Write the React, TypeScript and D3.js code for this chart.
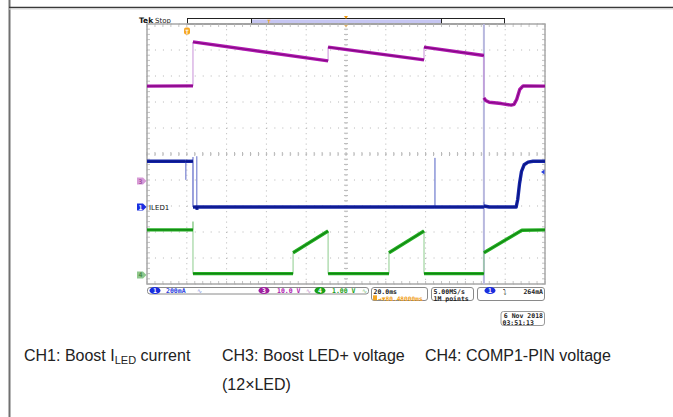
import React from "react";
import * as d3 from "d3";

// ---- data (time in ms, values in channel units) ----
const ch3Points: [number, number][] = [
  [0, 36.5], [23.1, 36.6], [23.1, 53.5], [91.0, 46.2], [91.0, 51.5], [139.2, 46.6],
  [139.2, 51.5], [169.3, 48.3], [169.3, 32.0], [170.2, 31.0], [172, 30.3], [178, 29.8],
  [183, 29.2], [184.5, 29.5], [185.8, 31.5], [187.3, 35.2], [189, 36.6], [200, 36.5],
];
const ch1Points: [number, number][] = [
  [0, 352], [19.5, 352], [19.5, 210], [19.5, 352], [23.1, 352], [23.1, 0], [23.1, 385],
  [23.1, 0], [25.0, 0], [25.0, 390], [25.0, -20], [25.2, 0], [144.7, 0], [144.7, 378],
  [144.7, 0], [169.3, 0], [169.3, 40], [169.3, 8], [172, 0], [185.5, 0], [186.3, 60],
  [187.2, 180], [188.2, 275], [189.5, 325], [191.5, 345], [194, 352], [200, 352],
];
const ch4Points: [number, number][] = [
  [0, 1.73], [23.1, 1.73], [23.1, 2.05], [23.1, 0.05], [73.4, 0.05], [73.4, 0.85],
  [91.0, 1.69], [91.0, 0.05], [121.6, 0.05], [121.6, 0.85], [139.2, 1.69], [139.2, 0.05],
  [169.3, 0.05], [169.3, 0.85], [188.4, 1.72], [200, 1.73],
];
const cursorTimes = [169.3];
const timeDivs = d3.range(0, 11);
const vertDivs = d3.range(-5, 6);
const captions = ["CH3: Boost LED+ voltage", "CH4: COMP1-PIN voltage"];

// ---- layout ----
const W = 673, H = 417;
const GX0 = 147, GX1 = 545, GY0 = 24, GY1 = 284;
const x = d3.scaleLinear().domain([0, 200]).range([GX0, GX1]);
const yDiv = d3.scaleLinear().domain([-5, 5]).range([GY1, GY0]);

const channels = [
  { pts: ch3Points, perDiv: 10, offset: -1.04, band: "#b018b0", core: "#800a80", edge: "#c890d8" },
  { pts: ch1Points, perDiv: 200, offset: -2.04, band: "#1424a8", core: "#0a1480", edge: "#8c94d8" },
  { pts: ch4Points, perDiv: 1, offset: -4.65, band: "#22b022", core: "#128212", edge: "#8ccc8c" },
];

function runs(pts: [number, number][]) {
  const out: [number, number][][] = [];
  let cur: [number, number][] = [pts[0]];
  for (let i = 1; i < pts.length; i++) {
    if (pts[i][0] === pts[i - 1][0]) {
      if (cur.length > 1) out.push(cur);
      cur = [pts[i]];
    } else cur.push(pts[i]);
  }
  if (cur.length > 1) out.push(cur);
  return out;
}

const mono = "'DejaVu Sans Mono', monospace";
const cap = "'Liberation Sans', Arial, sans-serif";

function Marker({ y, fill, label, textFill }: { y: number; fill: string; label: string; textFill: string }) {
  return (
    <g>
      <path d={`M137,${y - 3.5} L143,${y - 3.5} L146.5,${y} L143,${y + 3.5} L137,${y + 3.5} Z`} fill={fill} />
      <text x={140.5} y={y + 2.5} fontSize={6.5} fontFamily={mono} fontWeight="bold" fill={textFill} textAnchor="middle">{label}</text>
    </g>
  );
}

function ChanBadge({ cx, fill, label }: { cx: number; fill: string; label: string }) {
  return (
    <g>
      <ellipse cx={cx} cy={290.5} rx={5.5} ry={3.6} fill={fill} />
      <text x={cx} y={293} fontSize={6.5} fontFamily={mono} fontWeight="bold" fill="#fff" textAnchor="middle">{label}</text>
    </g>
  );
}

export default function App() {
  const minorX = (GX1 - GX0) / 50;
  const minorY = (GY1 - GY0) / 50;
  const cx = x(100), cy = yDiv(0);
  return (
    <div style={{ position: "fixed", left: 0, top: 0 }}>
      <svg width={W} height={H} style={{ display: "block", background: "#fff" }}>
        {/* page frame lines */}
        <line x1={9.5} y1={0} x2={9.5} y2={H} stroke="#707070" strokeWidth={2} />
        <line x1={9} y1={7.5} x2={W} y2={7.5} stroke="#3a3a3a" strokeWidth={1.6} />
        <line x1={9} y1={9} x2={W} y2={9} stroke="#d8d8d8" strokeWidth={1} />

        {/* header */}
        <text x={139} y={23} fontSize={7.5} fontWeight="bold" fontFamily="'DejaVu Sans', sans-serif" fill="#111">Tek</text>
        <text x={155} y={23} fontSize={7} fontFamily="'DejaVu Sans', sans-serif" fill="#222">Stop</text>
        <rect x={187.5} y={18.5} width={317} height={5.5} fill="#fff" stroke="#222" strokeWidth={1} />
        <rect x={251.5} y={19.5} width={190} height={3.5} fill="#c6c6f2" />
        <line x1={251.5} y1={18.5} x2={251.5} y2={24} stroke="#222" />
        <line x1={441.5} y1={18.5} x2={441.5} y2={24} stroke="#222" />
        <text x={269} y={24} fontSize={6} fontFamily={mono} fontWeight="bold" fill="#f0a020" textAnchor="middle">T</text>
        <path d={`M${cx - 2},16 L${cx + 2},16 L${cx},19 Z`} fill="#f09a10" />
        <path d={`M${cx - 2},24.5 L${cx + 2},24.5 L${cx},27.5 Z`} fill="#f09a10" />

        {/* graticule grid */}
        {timeDivs.map((d) => (
          <line key={"gx" + d} x1={GX0 + d * 5 * minorX} x2={GX0 + d * 5 * minorX} y1={GY0} y2={GY1}
            stroke="#b5b5b5" strokeWidth={1} strokeDasharray={`1,${minorY - 1}`} />
        ))}
        {vertDivs.map((d) => (
          <line key={"gy" + d} x1={GX0} x2={GX1} y1={yDiv(d)} y2={yDiv(d)}
            stroke="#b5b5b5" strokeWidth={1} strokeDasharray={`1,${minorX - 1}`} />
        ))}
        {/* center ticks */}
        {d3.range(0, 51).map((i) => (
          <g key={"tk" + i}>
            <line x1={GX0 + i * minorX} x2={GX0 + i * minorX} y1={cy - 2} y2={cy + 2} stroke="#b8b8b8" />
            <line x1={GX0 + i * minorX} x2={GX0 + i * minorX} y1={GY0} y2={GY0 + 3} stroke="#c4c4c4" />
            <line x1={GX0 + i * minorX} x2={GX0 + i * minorX} y1={GY1 - 3} y2={GY1} stroke="#c4c4c4" />
            <line y1={GY0 + i * minorY} y2={GY0 + i * minorY} x1={cx - 2} x2={cx + 2} stroke="#b8b8b8" />
            <line y1={GY0 + i * minorY} y2={GY0 + i * minorY} x1={GX0} x2={GX0 + 3} stroke="#c4c4c4" />
            <line y1={GY0 + i * minorY} y2={GY0 + i * minorY} x1={GX1 - 3} x2={GX1} stroke="#c4c4c4" />
          </g>
        ))}
        <rect x={GX0} y={GY0} width={GX1 - GX0} height={GY1 - GY0} fill="none" stroke="#a8a8a8" strokeWidth={1.5} />

        {/* cursor line */}
        {cursorTimes.map((t) => (
          <line key={"c" + t} x1={x(t)} x2={x(t)} y1={GY0} y2={GY1} stroke="#b8b8de" strokeWidth={2} />
        ))}

        {/* traces */}
        {channels.map((ch, ci) => {
          const yv = (v: number) => yDiv(ch.offset + v / ch.perDiv);
          const line = d3.line<[number, number]>().x((d) => x(d[0])).y((d) => yv(d[1]));
          const rs = runs(ch.pts);
          return (
            <g key={"ch" + ci}>
              <path d={line(ch.pts) || ""} fill="none" stroke={ch.edge} strokeWidth={1} />
              {rs.map((r, i) => (
                <path key={"b" + i} d={line(r) || ""} fill="none" stroke={ch.band} strokeWidth={3.4} strokeLinejoin="round" />
              ))}
              {rs.map((r, i) => (
                <path key={"c" + i} d={line(r) || ""} fill="none" stroke={ch.core} strokeWidth={1.1} strokeLinejoin="round" />
              ))}
            </g>
          );
        })}

        {/* trigger markers */}
        <rect x={184} y={27.5} width={6} height={7} rx={2} fill="#f5a623" />
        <text x={187} y={33.5} fontSize={6} fontFamily={mono} fontWeight="bold" fill="#fff" textAnchor="middle">T</text>
        <path d={`M${GX1 - 0.5},169.5 L${GX1 - 0.5},174.5 L${GX1 - 4},172 Z`} fill="#2a40e0" />

        {/* channel markers */}
        <Marker y={yDiv(channels[0].offset)} fill="#d79ad7" label="3" textFill="#a050a0" />
        <Marker y={yDiv(channels[1].offset)} fill="#1a2ee0" label="1" textFill="#fff" />
        <Marker y={yDiv(channels[2].offset)} fill="#8ec88e" label="4" textFill="#4a8a4a" />
        <text x={149} y={yDiv(channels[1].offset) + 2.5} fontSize={7} fontFamily="'DejaVu Sans', sans-serif" fill="#111">ILED1</text>

        {/* status bar */}
        <rect x={147.5} y={287.5} width={221} height={6.5} rx={2.5} fill="#fff" stroke="#8a8a8a" />
        <ChanBadge cx={155} fill="#1a2ee0" label="1" />
        <text x={166} y={293} fontSize={6.5} fontFamily={mono} fontWeight="bold" fill="#2a40e0">200mA</text>
        <text x={197} y={293} fontSize={6} fontFamily={mono} fill="#7a88e0">∿</text>
        <ChanBadge cx={264} fill="#a020a0" label="3" />
        <text x={277} y={293} fontSize={6.5} fontFamily={mono} fontWeight="bold" fill="#b020b0">10.0 V</text>
        <text x={306} y={293} fontSize={6} fontFamily={mono} fill="#c080c8">∿</text>
        <ChanBadge cx={320} fill="#18a018" label="4" />
        <text x={332} y={293} fontSize={6.5} fontFamily={mono} fontWeight="bold" fill="#18a018">1.00 V</text>
        <text x={362} y={293} fontSize={6} fontFamily={mono} fill="#70c070">∿</text>

        <rect x={371.5} y={287.5} width={56} height={13} rx={2.5} fill="#fff" stroke="#8a8a8a" />
        <text x={373.5} y={293.5} fontSize={6.5} fontFamily={mono} fontWeight="bold" fill="#222">20.0ms</text>
        <rect x={373} y={295.3} width={4} height={5} fill="#f5a623" />
        <text x={378} y={300.5} fontSize={6.2} fontFamily={mono} fontWeight="bold" fill="#f0a020">→▼80.48000ms</text>

        <rect x={431.5} y={287.5} width={42} height={13} rx={2.5} fill="#fff" stroke="#8a8a8a" />
        <text x={433.5} y={293.5} fontSize={6.5} fontFamily={mono} fontWeight="bold" fill="#222">5.00MS/s</text>
        <text x={433.5} y={300.5} fontSize={6.5} fontFamily={mono} fontWeight="bold" fill="#222">1M points</text>

        <rect x={477.5} y={287.5} width={67} height={13} rx={2.5} fill="#fff" stroke="#8a8a8a" />
        <ChanBadge cx={490} fill="#1a2ee0" label="1" />
        <text x={503} y={293.5} fontSize={6.5} fontFamily={mono} fill="#222">⤵</text>
        <text x={543} y={293.5} fontSize={6.5} fontFamily={mono} fontWeight="bold" fill="#222" textAnchor="end">264mA</text>

        <rect x={501} y={311.5} width={43.5} height={14} rx={2.5} fill="#fff" stroke="#9a9a9a" />
        <text x={543} y={317.5} fontSize={6.5} fontFamily={mono} fontWeight="bold" fill="#222" textAnchor="end">6 Nov 2018</text>
        <text x={502.5} y={324.5} fontSize={6.5} fontFamily={mono} fontWeight="bold" fill="#222">03:51:13</text>

        {/* captions */}
        <text x={24} y={361} fontSize={16} fontFamily={cap} fill="#222">
          CH1: Boost I<tspan fontSize={11} dy={3}>LED</tspan><tspan dy={-3}> current</tspan>
        </text>
        <text x={222} y={361} fontSize={16} fontFamily={cap} fill="#222">{captions[0]}</text>
        <text x={425} y={361} fontSize={16} fontFamily={cap} fill="#222">{captions[1]}</text>
        <text x={222} y={390} fontSize={16} fontFamily={cap} fill="#222">(12×LED)</text>
      </svg>
    </div>
  );
}
